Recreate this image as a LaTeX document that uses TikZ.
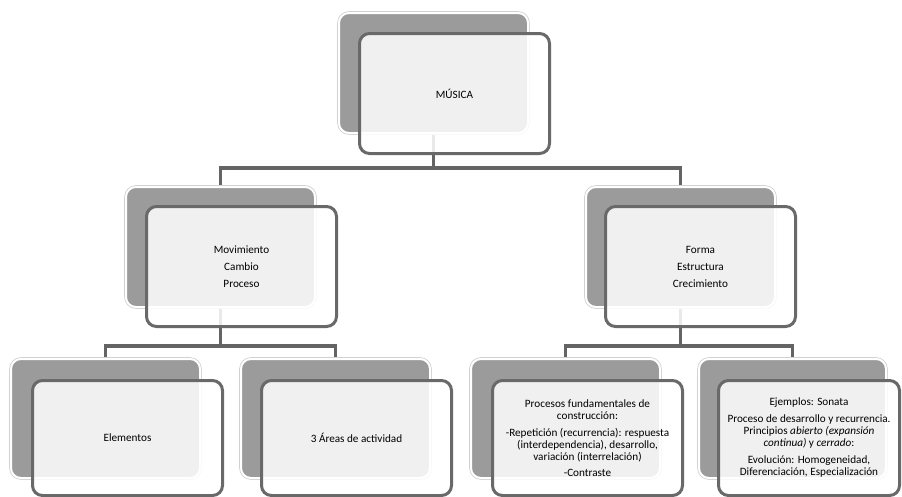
\documentclass[tikz,border=0pt]{standalone}
\usepackage{fontspec}
\setmainfont{Carlito}
\usetikzlibrary{backgrounds}
\definecolor{backgray}{RGB}{155,155,155}
\definecolor{framegray}{RGB}{105,105,105}
\definecolor{linegray}{RGB}{100,100,100}
\tikzset{
  backbox/.style={anchor=north west, rounded corners=10pt, fill=backgray, draw=white, line width=2pt,
    preaction={draw=black!18, line width=3.6pt}, minimum width=189pt, minimum height=120pt, inner sep=0pt},
  frontbox/.style={anchor=north west, rounded corners=10pt, fill=white, fill opacity=0.86, text opacity=1,
    draw=framegray, draw opacity=1, line width=3pt, minimum width=190pt, minimum height=120pt,
    align=center, inner sep=1pt, font=\fontsize{11.2}{12}\selectfont, text=black},
  conn/.style={draw=linegray, line width=3.2pt}
}
\begin{document}
\begin{tikzpicture}[x=1pt,y=-1pt]
\useasboundingbox (0,0) rectangle (902,496);
% top
\node[backbox] (b1) at (338,12) {};
\node[frontbox] (f1) at (358,32) {MÚSICA};
% level 2
\node[backbox] (b2) at (125,186) {};
\node[frontbox] (f2) at (145,205) {Movimiento\\[5pt]Cambio\\[5pt]Proceso};
\node[backbox] (b3) at (585,186) {};
\node[frontbox] (f3) at (604,205) {Forma\\[5pt]Estructura\\[5pt]Crecimiento};
% level 3
\node[backbox, minimum height=119pt] (b4) at (10,358) {};
\node[frontbox, minimum height=115pt] (f4) at (31,379) {Elementos};
\node[backbox, minimum height=119pt] (b5) at (240,358) {};
\node[frontbox, minimum height=115pt] (f5) at (260,379) {3 Áreas de actividad};
\node[backbox, minimum height=119pt] (b6) at (470,358) {};
\node[frontbox, minimum height=115pt] (f6) at (491,379) {Procesos fundamentales de\\construcción:\\[5pt]-Repetición (recurrencia): respuesta\\(interdependencia), desarrollo,\\variación (interrelación)\\[4pt]-Contraste};
\node[backbox, minimum height=119pt, minimum width=187pt] (b7) at (698,358) {};
\node[frontbox, minimum height=115pt, minimum width=181pt] (f7) at (717,379) {Ejemplos: Sonata\\[5pt]Proceso de desarrollo y recurrencia.\\Principios \textit{abierto (expansión}\\\textit{continua)} y \textit{cerrado}:\\[5pt]Evolución: Homogeneidad,\\Diferenciación, Especialización};
\begin{pgfonlayer}{background}
\draw[conn] (b1.south) -- ++(0,34) -| (b2.north);
\draw[conn] (b1.south) -- ++(0,34) -| (b3.north);
\draw[conn] (b2.south) -- ++(0,38) -| (b4.north);
\draw[conn] (b2.south) -- ++(0,38) -| (b5.north);
\draw[conn] (b3.south) -- ++(0,38) -| (b6.north);
\draw[conn] (b3.south) -- ++(0,38) -| (b7.north);
\end{pgfonlayer}
\end{tikzpicture}
\end{document}
